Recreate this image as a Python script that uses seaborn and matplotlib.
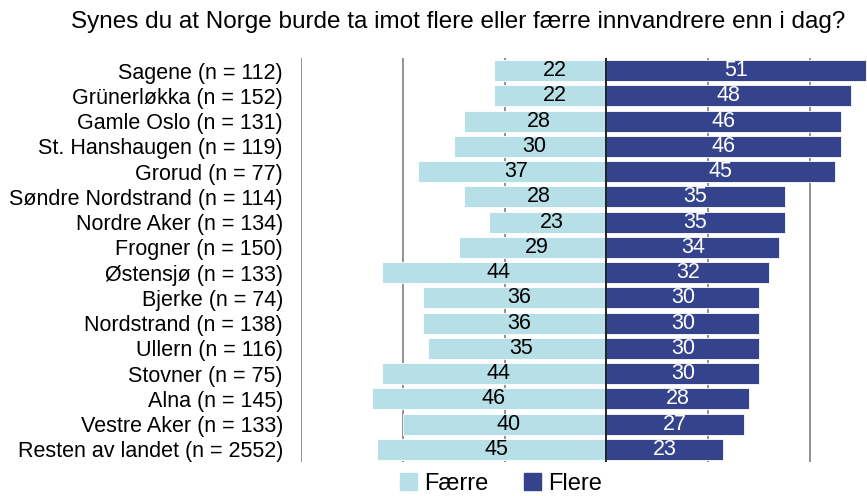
import matplotlib
matplotlib.use('Agg')
import matplotlib.pyplot as plt
import pandas as pd
import seaborn as sns

# Data
regions = [
    "Sagene (n = 112)", "Grünerløkka (n = 152)", "Gamle Oslo (n = 131)",
    "St. Hanshaugen (n = 119)", "Grorud (n = 77)", "Søndre Nordstrand (n = 114)",
    "Nordre Aker (n = 134)", "Frogner (n = 150)", "Østensjø (n = 133)",
    "Bjerke (n = 74)", "Nordstrand (n = 138)", "Ullern (n = 116)",
    "Stovner (n = 75)", "Alna (n = 145)", "Vestre Aker (n = 133)",
    "Resten av landet (n = 2552)",
]
faerre = [22, 22, 28, 30, 37, 28, 23, 29, 44, 36, 36, 35, 44, 46, 40, 45]
flere = [51, 48, 46, 46, 45, 35, 35, 34, 32, 30, 30, 30, 30, 28, 27, 23]

title = "Synes du at Norge burde ta imot flere eller færre innvandrere enn i dag?"
colors = {"Færre": "#b6dfe8", "Flere": "#34438b"}

df = pd.concat([
    pd.DataFrame({"region": regions, "gruppe": "Færre", "verdi": [-v for v in faerre]}),
    pd.DataFrame({"region": regions, "gruppe": "Flere", "verdi": flere}),
])

sns.set_style("white")
plt.rcParams['font.family'] = ['Liberation Sans', 'DejaVu Sans']
plt.rcParams['text.color'] = 'black'
plt.rcParams['ytick.color'] = 'black'

fig = plt.figure(figsize=(8.67, 4.96), dpi=100)
ax = fig.add_axes([301 / 867, 1 - 462 / 496, 1 - 301 / 867, 404 / 496])

sns.barplot(data=df, y="region", x="verdi", hue="gruppe", dodge=False,
            palette=colors, saturation=1, width=0.83, ax=ax, legend=False,
            edgecolor="white", linewidth=0.6)
for p in ax.patches:
    p.set_zorder(2)

ax.set_xlim(-60, 51.2)
ax.set_ylim(len(regions) - 0.5, -0.5)
for x in [-60, -40, -20, 20, 40]:
    ax.axvline(x, color="#808080", lw=1.2, zorder=0)
ax.axvline(0, color="black", lw=1.2, zorder=3)

# value labels centered in each bar
for i in range(len(regions)):
    ax.text(-faerre[i] / 2 + 0.8, i, str(faerre[i]), ha="center", va="center",
            fontsize=15.5, color="black", zorder=4)
    ax.text(flere[i] / 2, i, str(flere[i]), ha="center", va="center",
            fontsize=15.5, color="white", zorder=4)

ax.set_xticks([])
ax.set_xlabel("")
ax.set_ylabel("")
ax.tick_params(axis="y", length=0, labelsize=15.5, pad=13, labelcolor="black")
for s in ax.spines.values():
    s.set_visible(False)

fig.text(0.528, 1 - 22 / 496, title, ha="center", va="center", fontsize=17.5)

handles = [plt.Rectangle((0, 0), 1, 1, color=colors[k]) for k in ["Færre", "Flere"]]
fig.legend(handles, ["Færre", "Flere"], loc="center", bbox_to_anchor=(0.578, 1 - 484 / 496),
           ncol=2, frameon=False, fontsize=17, handlelength=0.72, handleheight=0.72,
           handletextpad=0.3, columnspacing=1.5, borderpad=0)

fig.savefig("out.png", dpi=100)
